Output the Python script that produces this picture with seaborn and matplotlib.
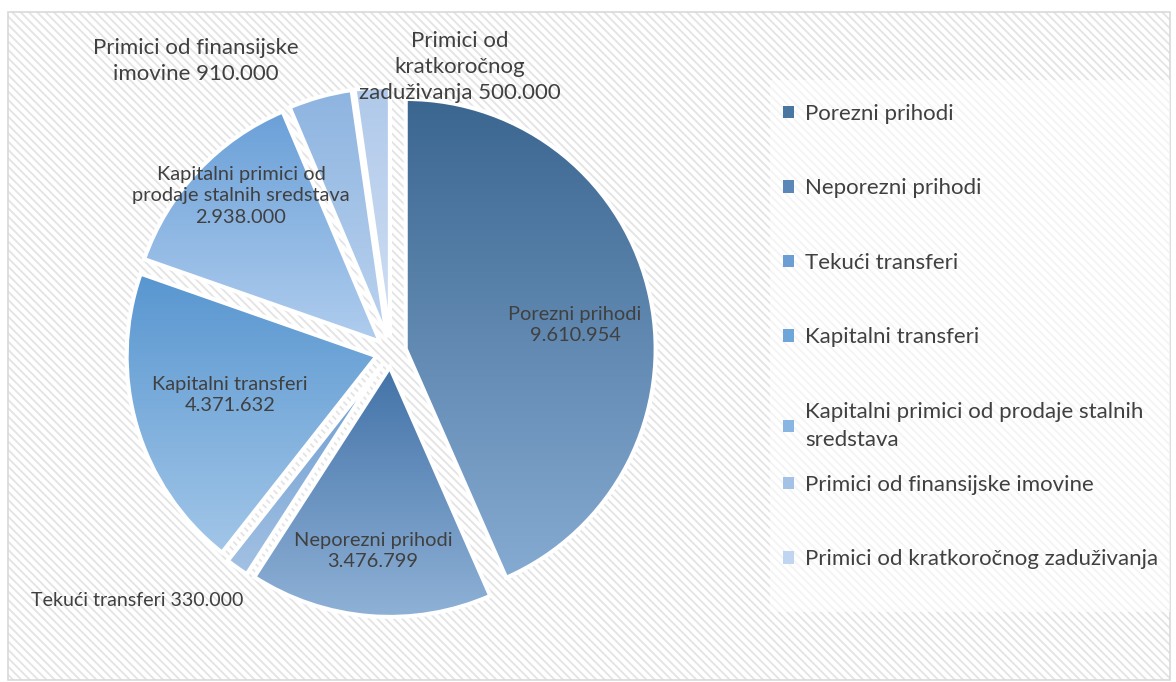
import numpy as np
import matplotlib
matplotlib.use("Agg")
import matplotlib.pyplot as plt
import seaborn as sns
from matplotlib.colors import LinearSegmentedColormap
from matplotlib.patches import Rectangle, Patch

# ---- data ----
categories = ["Porezni prihodi", "Neporezni prihodi", "Tekući transferi",
              "Kapitalni transferi", "Kapitalni primici od prodaje stalnih sredstava",
              "Primici od finansijske imovine", "Primici od kratkoročnog zaduživanja"]
values = [9610954, 3476799, 330000, 4371632, 2938000, 910000, 500000]
value_labels = ["9.610.954", "3.476.799", "330.000", "4.371.632", "2.938.000", "910.000", "500.000"]
legend_labels = ["Porezni prihodi", "Neporezni prihodi", "Tekući transferi",
                 "Kapitalni transferi", "Kapitalni primici od prodaje stalnih\nsredstava",
                 "Primici od finansijske imovine", "Primici od kratkoročnog zaduživanja"]
slice_texts = ["Porezni prihodi\n9.610.954", "Neporezni prihodi\n3.476.799",
               "Tekući transferi 330.000", "Kapitalni transferi\n4.371.632",
               "Kapitalni primici od\nprodaje stalnih sredstava\n2.938.000",
               "Primici od finansijske\nimovine 910.000",
               "Primici od\nkratkoročnog\nzaduživanja 500.000"]

# gradient colours (top, bottom) per slice
grad_top = ["#3b6690", "#4373a8", "#6a9bd0", "#5896d0", "#6aa0d8", "#8db4e0", "#b0c9ea"]
grad_bot = ["#86abd2", "#8fb1d6", "#a3c1e3", "#a2c6e8", "#b0cdee", "#bcd3ef", "#d0dff3"]
legend_cols = ["#4a76a2", "#5a87b8", "#6b9fd3", "#6ea6da", "#88b5e2", "#a3c2e6", "#c0d5ef"]

sns.set_theme(style="white")
plt.rcParams['font.family'] = ['Lato', 'DejaVu Sans']
TXT = "#404040"

W, H = 1176, 682
fig = plt.figure(figsize=(W / 100, H / 100), dpi=100)
fig.patch.set_facecolor("white")

# hatched chart-area background
plt.rcParams['hatch.linewidth'] = 1.3
bx0, by0, bx1, by1 = 8, 12, 1170, 680
fig.patches.append(Rectangle((bx0 / W, 1 - by1 / H), (bx1 - bx0) / W, (by1 - by0) / H,
                             transform=fig.transFigure, facecolor="white",
                             edgecolor="#e4e4e4", hatch="\\\\\\\\", linewidth=0, zorder=-10))
fig.patches.append(Rectangle((bx0 / W, 1 - by1 / H), (bx1 - bx0) / W, (by1 - by0) / H,
                             transform=fig.transFigure, facecolor="none",
                             edgecolor="#d9d9d9", linewidth=1.2, zorder=-9))
# translucent legend area
lx0, ly0, lx1, ly1 = 770, 80, 1170, 612
fig.patches.append(Rectangle((lx0 / W, 1 - ly1 / H), (lx1 - lx0) / W, (ly1 - ly0) / H,
                             transform=fig.transFigure, facecolor="white", alpha=0.6,
                             edgecolor="none", zorder=-8))

# axes: pie centre and radius in px
cx, cy, R = 391, 352, 250
half = 1.3 * R
ax = fig.add_axes([(cx - half) / W, (H - cy - half) / H, 2 * half / W, 2 * half / H])
ax.set_axis_off()
ax.patch.set_alpha(0)
ax.set_zorder(1)

wedges, _ = ax.pie(values, startangle=90, counterclock=False, explode=[0.06] * len(values),
                   radius=1, wedgeprops=dict(edgecolor="white", linewidth=3))

grad = np.linspace(0, 1, 256).reshape(-1, 1)
for w, c0, c1 in zip(wedges, grad_top, grad_bot):
    w.set_facecolor("none")
    w.set_zorder(2)
    bb = w.get_path().get_extents()
    cmap = LinearSegmentedColormap.from_list("g", [c0, c1])
    im = ax.imshow(grad, cmap=cmap, extent=[bb.x0, bb.x1, bb.y0, bb.y1],
                   origin="upper", aspect="auto", zorder=1, interpolation="bilinear")
    im.set_clip_path(w)

ax.set_xlim(-1.3, 1.3)
ax.set_ylim(-1.3, 1.3)

# label positions (pixel centres in the image) and sizes
label_px = [(575, 325), (373, 551), (137, 600), (230, 395), (241, 196), (196, 61), (460, 67)]
label_fs = [14.4, 14.4, 14.1, 14.4, 14.4, 16, 16]
label_ls = [1.3, 1.3, 1.3, 1.3, 1.35, 1.4, 1.4]
for (px, py), t, fs, ls in zip(label_px, slice_texts, label_fs, label_ls):
    ax.text((px - cx) / R, (cy - py) / R, t, ha="center", va="center",
            fontsize=fs, color=TXT, linespacing=ls, clip_on=False, zorder=5)

# legend: rows with first lines evenly spaced (split in two groups)
handles = [Patch(facecolor=c, edgecolor="none") for c in legend_cols]
common = dict(fontsize=16, labelcolor=TXT, frameon=False, labelspacing=2.45,
              handlelength=0.5, handleheight=0.5, handletextpad=0.5,
              borderpad=0.0, borderaxespad=0.0)
leg1 = fig.legend(handles[:5], legend_labels[:5], loc="upper left",
                  bbox_to_anchor=(783 / W, 1 - 104 / H), **common)
leg2 = fig.legend(handles[5:], legend_labels[5:], loc="upper left",
                  bbox_to_anchor=(783 / W, 1 - 475 / H), **common)
for lg in (leg1, leg2):
    for t in lg.get_texts():
        t.set_linespacing(1.5)

fig.savefig("out.png", dpi=100)
